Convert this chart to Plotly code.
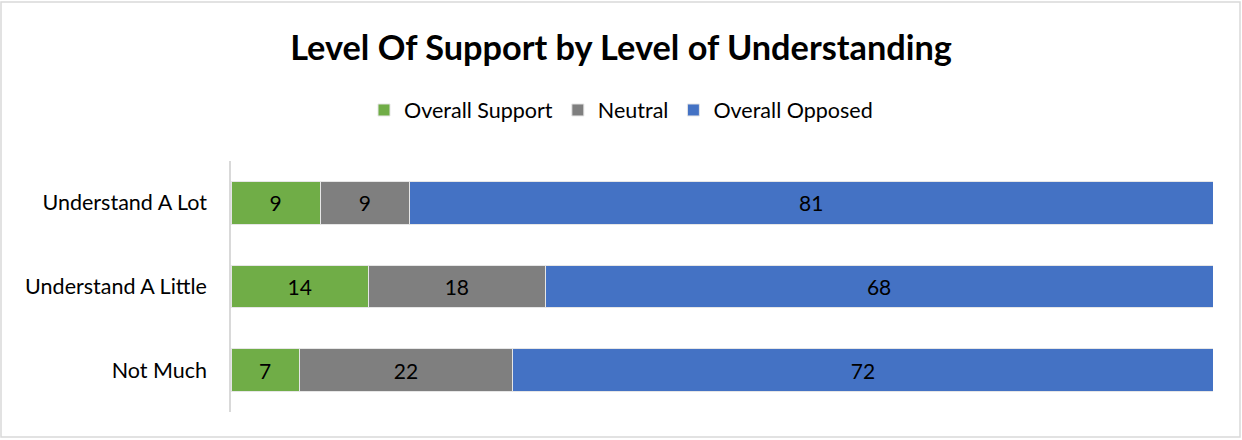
import plotly.graph_objects as go

categories = ["Understand A Lot", "Understand A Little", "Not Much"]
support = [9, 14, 7]
neutral = [9, 18, 22]
opposed = [81, 68, 72]
series_names = ["Overall Support", "Neutral", "Overall Opposed"]
colors = ["#70AD47", "#7F7F7F", "#4472C4"]

FONT = "Lato, Open Sans, sans-serif"

fig = go.Figure()
for name, vals, col in zip(series_names, [support, neutral, opposed], colors):
    fig.add_trace(go.Bar(
        y=categories, x=vals, name=name, orientation="h",
        marker=dict(color=col, line=dict(color="#e6e6e6", width=1)),
        text=vals, texttemplate="%{text}", textposition="inside",
        insidetextanchor="middle",
        textfont=dict(color="black", size=21, family=FONT),
        hoverinfo="skip",
    ))

fig.update_layout(
    barmode="stack", barnorm="percent", bargap=0.49,
    width=1242, height=440,
    margin=dict(l=231, r=29, t=161, b=28),
    paper_bgcolor="white", plot_bgcolor="white",
    font=dict(family=FONT, color="black"),
    title=dict(text="<b>Level Of Support by Level of Understanding</b>",
               x=0.5, xref="container", xanchor="center",
               y=1 - 48 / 440, yref="container", yanchor="middle",
               font=dict(size=34.3, family=FONT, color="black")),
    legend=dict(orientation="h", x=0.5, xref="container", xanchor="center",
                y=1 - 110 / 440, yref="container", yanchor="middle",
                font=dict(size=21.5, family=FONT, color="black"),
                traceorder="normal", itemwidth=30),
    xaxis=dict(visible=False, range=[0, 100]),
    yaxis=dict(autorange="reversed", showline=True, linecolor="#d9d9d9",
               linewidth=1.5, ticks="", showgrid=False, ticklabelstandoff=18,
               tickfont=dict(size=21.5, family=FONT, color="black")),
    showlegend=True,
)
fig.add_shape(type="rect", xref="paper", yref="paper",
              x0=-230 / 982, x1=1 + 27 / 982, y0=-25 / 251, y1=1 + 159 / 251,
              line=dict(color="#d9d9d9", width=1.5), fillcolor="rgba(0,0,0,0)",
              layer="below")

fig.write_html("out.html", config={"displayModeBar": False},
               post_script="document.body.style.margin='0';document.body.style.padding='0';")
